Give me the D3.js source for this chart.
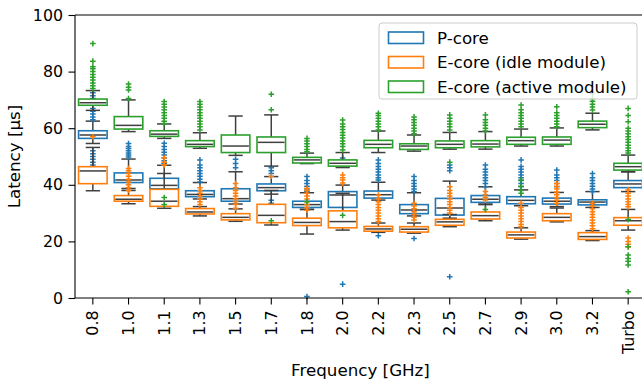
<!DOCTYPE html>
<html>
<head>
<meta charset="utf-8">
<script src="https://cdn.jsdelivr.net/npm/d3@7"></script>
<style>
  html, body { margin: 0; padding: 0; background: #fff; }
  svg { display: block; font-family: "DejaVu Sans", sans-serif; }
</style>
</head>
<body>
<svg id="chart" width="642" height="383"></svg>
<script>
// frequencies on the x axis
const categories = ["0.8", "1.0", "1.1", "1.3", "1.5", "1.7", "1.8", "2.0", "2.2", "2.3", "2.5", "2.7", "2.9", "3.0", "3.2", "Turbo"];
const seriesNames = ["P-core", "E-core (idle module)", "E-core (active module)"];
const seriesColors = ["#1f77b4", "#ff7f0e", "#2ca02c"];
const yTicks = [0, 20, 40, 60, 80, 100];

// box stats per category: [low whisker, q1, median, q3, high whisker]
const pCoreStats = [
  [54.6, 56.4, 57.6, 59.1, 62.5], [38.7, 40.8, 41.7, 44.2, 49.1], [37.0, 38.6, 39.8, 42.3, 46.9],
  [35.0, 35.8, 36.6, 37.9, 40.8], [33.2, 34.2, 35.1, 38.6, 44.6], [36.7, 37.9, 39.0, 40.3, 42.9],
  [31.3, 32.0, 33.0, 34.2, 37.2], [26.0, 32.0, 36.4, 37.6, 39.9], [34.6, 35.3, 36.5, 37.8, 40.9],
  [29.0, 29.8, 31.1, 33.0, 37.2], [28.2, 29.3, 31.8, 35.2, 41.3], [33.2, 33.8, 34.9, 36.2, 39.3],
  [32.6, 33.3, 34.5, 35.8, 38.2], [32.3, 33.2, 34.2, 35.3, 37.3], [32.0, 32.9, 33.9, 34.7, 37.6],
  [37.6, 39.0, 40.3, 41.5, 44.6]
];
const eIdleStats = [
  [37.9, 40.4, 44.9, 46.4, 53.2], [33.3, 34.2, 34.9, 36.2, 38.0], [31.7, 32.4, 34.2, 38.4, 44.0],
  [29.0, 29.7, 30.4, 31.6, 32.3], [27.1, 27.6, 28.5, 29.8, 31.5], [25.8, 26.6, 29.2, 33.1, 38.0],
  [22.6, 25.6, 26.7, 28.2, 31.3], [24.0, 24.8, 27.0, 30.8, 37.0], [23.2, 23.6, 24.4, 25.3, 26.5],
  [22.9, 23.3, 24.3, 25.2, 26.5], [25.2, 25.7, 26.9, 27.8, 29.5], [27.3, 27.9, 29.1, 30.4, 33.0],
  [20.8, 21.2, 22.3, 23.3, 24.8], [26.9, 27.3, 28.5, 29.8, 31.8], [20.3, 20.7, 21.7, 23.1, 23.8],
  [24.0, 25.7, 27.3, 28.4, 31.3]
];
const eActiveStats = [
  [66.3, 68.1, 69.0, 70.3, 73.3], [58.8, 59.7, 61.0, 64.1, 70.0], [56.4, 57.1, 57.9, 59.1, 61.5],
  [52.9, 53.5, 54.3, 55.6, 58.4], [50.4, 51.4, 53.7, 57.6, 64.3], [46.6, 51.4, 55.0, 56.9, 64.7],
  [47.5, 47.7, 48.8, 49.7, 51.2], [46.1, 46.6, 47.6, 48.8, 51.4], [51.4, 53.1, 54.3, 55.7, 59.0],
  [51.9, 52.5, 53.7, 54.5, 57.6], [52.6, 53.1, 54.3, 55.5, 58.5], [52.6, 53.4, 54.4, 55.6, 58.8],
  [53.7, 54.3, 55.6, 56.8, 59.7], [53.7, 54.3, 55.8, 56.9, 60.1], [59.4, 60.2, 61.4, 62.5, 65.3],
  [44.6, 45.2, 46.4, 47.6, 50.5]
];

// fliers per category
const pCoreOutliers = [
  [63, 64, 65, 66, 67, 70.5, 71.5, 72.5, 42, 43, 44, 45, 46, 47, 48, 49, 50, 51, 52],
  [49.8, 50.5, 51.2, 52, 52.8, 53.5, 54.6],
  [47.6, 48.5, 49.5, 50.5, 51.5, 52.5, 53.5, 54.7],
  [41, 42, 43, 44, 45, 46, 47, 48.8],
  [46, 47.5, 49],
  [44, 45, 46, 33.5, 34.5],
  [37.6, 38.5, 39.5, 40.5, 41.5, 42.9, 0.5],
  [49.5, 4.9],
  [41.7, 42.5, 43.5, 44.5, 45.5, 46.5, 47.5, 48.8, 22],
  [37.6, 38.5, 39.5, 40.5, 41.5, 42.9, 21],
  [45, 46, 47, 7.5],
  [39.3, 40.5, 41.5, 42.5, 43.5, 44.5, 45.5, 47],
  [39.3, 40.5, 41.5, 42.5, 43.5, 44.5, 45.5, 46.5, 48.8],
  [39.3, 40.5, 41.5, 42.5, 43.5, 45.2],
  [37.6, 38.5, 39.5, 40.5, 41.5, 42.5, 44],
  [45.5]
];
const eIdleOutliers = [
  [57],
  [38, 39, 40, 41, 42, 43, 44, 45, 45.8],
  [47, 48, 49.5],
  [33, 34, 35, 36, 37, 38, 39],
  [31.7, 33, 34, 35, 36, 37, 38, 39, 40.5],
  [43],
  [31, 32, 33, 34, 35, 36, 37, 38, 38.8],
  [40.6, 41.7, 42.5, 43.5],
  [27, 28, 29, 30, 31, 32, 33, 34, 35, 36.4],
  [27.6, 28.5, 29.5, 30.5, 31.5, 32.5, 33.5],
  [30, 31, 32, 33, 34, 35, 36, 37, 38, 39.3],
  [34.6, 35.5, 36.5, 37.6],
  [25.2, 26, 27, 28, 29, 30, 31, 32, 33.5],
  [33.5, 34.5, 35.5, 36.5, 37.5, 38.5, 39.5, 40.5],
  [24.5, 25.5, 26.5, 27.5, 28.5, 29.5, 30.5, 31.5, 32.5, 33.5],
  [32.2, 33, 34, 35, 36, 37, 38.2, 18, 19, 20, 21.2]
];
const eActiveOutliers = [
  [74, 75, 76, 77, 78, 79, 80, 81, 81.7, 83.7, 89.9],
  [70.5, 73.5, 74.5, 75.6],
  [61.7, 62.5, 63.5, 64.5, 65.5, 66.5, 67.5, 68.5, 69.4, 33, 35.5],
  [59.4, 60.5, 61.5, 62.5, 63.5, 64.5, 65.5, 66.5, 67.5, 68.5, 69.4],
  [],
  [66.5, 72, 27.3],
  [51.7, 52.5, 53.5, 54.5, 55.5, 56.4, 34],
  [52.3, 53.5, 54.5, 55.5, 56.5, 57.5, 58.5, 59.5, 60.5, 61.5, 62.9, 29.2],
  [59.4, 60.5, 61.5, 62.5, 63.5, 64.5, 65.3],
  [58, 59, 60, 61, 62, 63, 64],
  [59.4, 60.5, 61.5, 62.5, 63.5, 64.7, 48],
  [59, 60, 61, 62, 63, 64.7, 31.3],
  [60.5, 61.5, 62.5, 63.5, 64.5, 65.5, 66.5, 68.2, 37, 38, 39.5, 41.7],
  [60.5, 61.5, 62.5, 63.5, 64.5, 65.5, 67.6],
  [66.4, 67.5, 68.5, 69.5, 70.5, 72.3],
  [51.2, 52, 53, 54, 55, 56, 57, 58, 59, 60, 62.3, 64.5, 67, 27.7, 18.1, 15.2, 14, 13, 11.7, 2.2]
];

const allStats = [pCoreStats, eIdleStats, eActiveStats];
const allOutliers = [pCoreOutliers, eIdleOutliers, eActiveOutliers];

const width = 642;
const height = 383;
const marginLeft = 75;
const marginTop = 15;
const plotRight = 646;
const plotBottom = 298;
const grey = "#3f3f3f";
const tickFont = "15.8px";
const labelFont = "16.7px";

const svg = d3.select("#chart");

const x = d3.scaleBand()
  .domain(categories)
  .range([marginLeft, plotRight])
  .padding(0);

const y = d3.scaleLinear()
  .domain([0, 100])
  .range([plotBottom, marginTop]);

const boxW = x.bandwidth() * 0.8;
const capW = boxW / 2;

// boxes, one series after the other
allStats.forEach((stats, si) => {
  const color = seriesColors[si];
  const g = svg.append("g").attr("class", "series-" + si);

  stats.forEach((s, ci) => {
    const cx = x(categories[ci]) + x.bandwidth() / 2;
    const [lo, q1, med, q3, hi] = s;

    // whiskers
    g.append("line")
      .attr("x1", cx).attr("x2", cx)
      .attr("y1", y(q1)).attr("y2", y(lo))
      .attr("stroke", grey).attr("stroke-width", 1.5);
    g.append("line")
      .attr("x1", cx).attr("x2", cx)
      .attr("y1", y(q3)).attr("y2", y(hi))
      .attr("stroke", grey).attr("stroke-width", 1.5);
    [lo, hi].forEach(v => {
      g.append("line")
        .attr("x1", cx - capW / 2).attr("x2", cx + capW / 2)
        .attr("y1", y(v)).attr("y2", y(v))
        .attr("stroke", grey).attr("stroke-width", 1.5);
    });

    g.append("rect")
      .attr("x", cx - boxW / 2)
      .attr("y", y(q3))
      .attr("width", boxW)
      .attr("height", y(q1) - y(q3))
      .attr("fill", "#fff")
      .attr("stroke", color)
      .attr("stroke-width", 1.6);

    g.append("line")
      .attr("x1", cx - boxW / 2 + 1).attr("x2", cx + boxW / 2 - 1)
      .attr("y1", y(med)).attr("y2", y(med))
      .attr("stroke", grey).attr("stroke-width", 1.5);

    // fliers as "+"
    g.selectAll(null)
      .data(allOutliers[si][ci])
      .enter()
      .append("path")
      .attr("d", d => `M${cx - 2.8},${y(d)}h5.6M${cx},${y(d) - 2.8}v5.6`)
      .attr("stroke", color)
      .attr("stroke-width", 1.5)
      .attr("fill", "none");
  });
});

// axes
const yAxis = d3.axisLeft(y).tickValues(yTicks).tickSize(6.5).tickPadding(5.5);
const xAxis = d3.axisBottom(x).tickSize(6.5).tickPadding(4);

const gy = svg.append("g")
  .attr("transform", `translate(${marginLeft},0)`)
  .call(yAxis);
gy.select(".domain").remove();
gy.selectAll("line").attr("stroke", "#000").attr("stroke-width", 1.1);
gy.selectAll("text")
  .style("font-size", tickFont)
  .style("font-family", "DejaVu Sans")
  .attr("fill", "#000");

const gx = svg.append("g")
  .attr("transform", `translate(0,${plotBottom})`)
  .call(xAxis);
gx.select(".domain").remove();
gx.selectAll("line").attr("stroke", "#000").attr("stroke-width", 1.1);
gx.selectAll("text")
  .style("font-size", tickFont)
  .style("font-family", "DejaVu Sans")
  .attr("fill", "#000")
  .attr("text-anchor", "end")
  .attr("dy", "0.35em")
  .attr("transform", "translate(0,12.5) rotate(-90)")
  .attr("x", 0)
  .attr("y", 0);

// spines: left, top, bottom (right one is cut off)
svg.append("line")
  .attr("x1", marginLeft).attr("x2", marginLeft)
  .attr("y1", marginTop).attr("y2", plotBottom)
  .attr("stroke", "#000").attr("stroke-width", 1.1);
svg.append("line")
  .attr("x1", marginLeft).attr("x2", width)
  .attr("y1", marginTop).attr("y2", marginTop)
  .attr("stroke", "#000").attr("stroke-width", 1.1);
svg.append("line")
  .attr("x1", marginLeft).attr("x2", width)
  .attr("y1", plotBottom).attr("y2", plotBottom)
  .attr("stroke", "#000").attr("stroke-width", 1.1);

// axis titles
svg.append("text")
  .attr("x", (marginLeft + plotRight) / 2)
  .attr("y", 376)
  .attr("text-anchor", "middle")
  .style("font-size", labelFont)
  .text("Frequency [GHz]");

svg.append("text")
  .attr("transform", `translate(20,${(marginTop + plotBottom) / 2}) rotate(-90)`)
  .attr("text-anchor", "middle")
  .style("font-size", labelFont)
  .text("Latency [µs]");

// legend
const legend = svg.append("g").attr("transform", "translate(379,23)");
legend.append("rect")
  .attr("width", 258)
  .attr("height", 76)
  .attr("rx", 3)
  .attr("fill", "#fff")
  .attr("fill-opacity", 0.8)
  .attr("stroke", "#ccc")
  .attr("stroke-width", 1);

seriesNames.forEach((name, i) => {
  const row = legend.append("g").attr("transform", `translate(0,${9 + i * 24.5})`);
  row.append("rect")
    .attr("x", 9.5)
    .attr("y", 0)
    .attr("width", 35)
    .attr("height", 11.5)
    .attr("fill", "#fff")
    .attr("stroke", seriesColors[i])
    .attr("stroke-width", 1.6);
  row.append("text")
    .attr("x", 58)
    .attr("y", 11.5)
    .style("font-size", labelFont)
    .text(name);
});
</script>
</body>
</html>
